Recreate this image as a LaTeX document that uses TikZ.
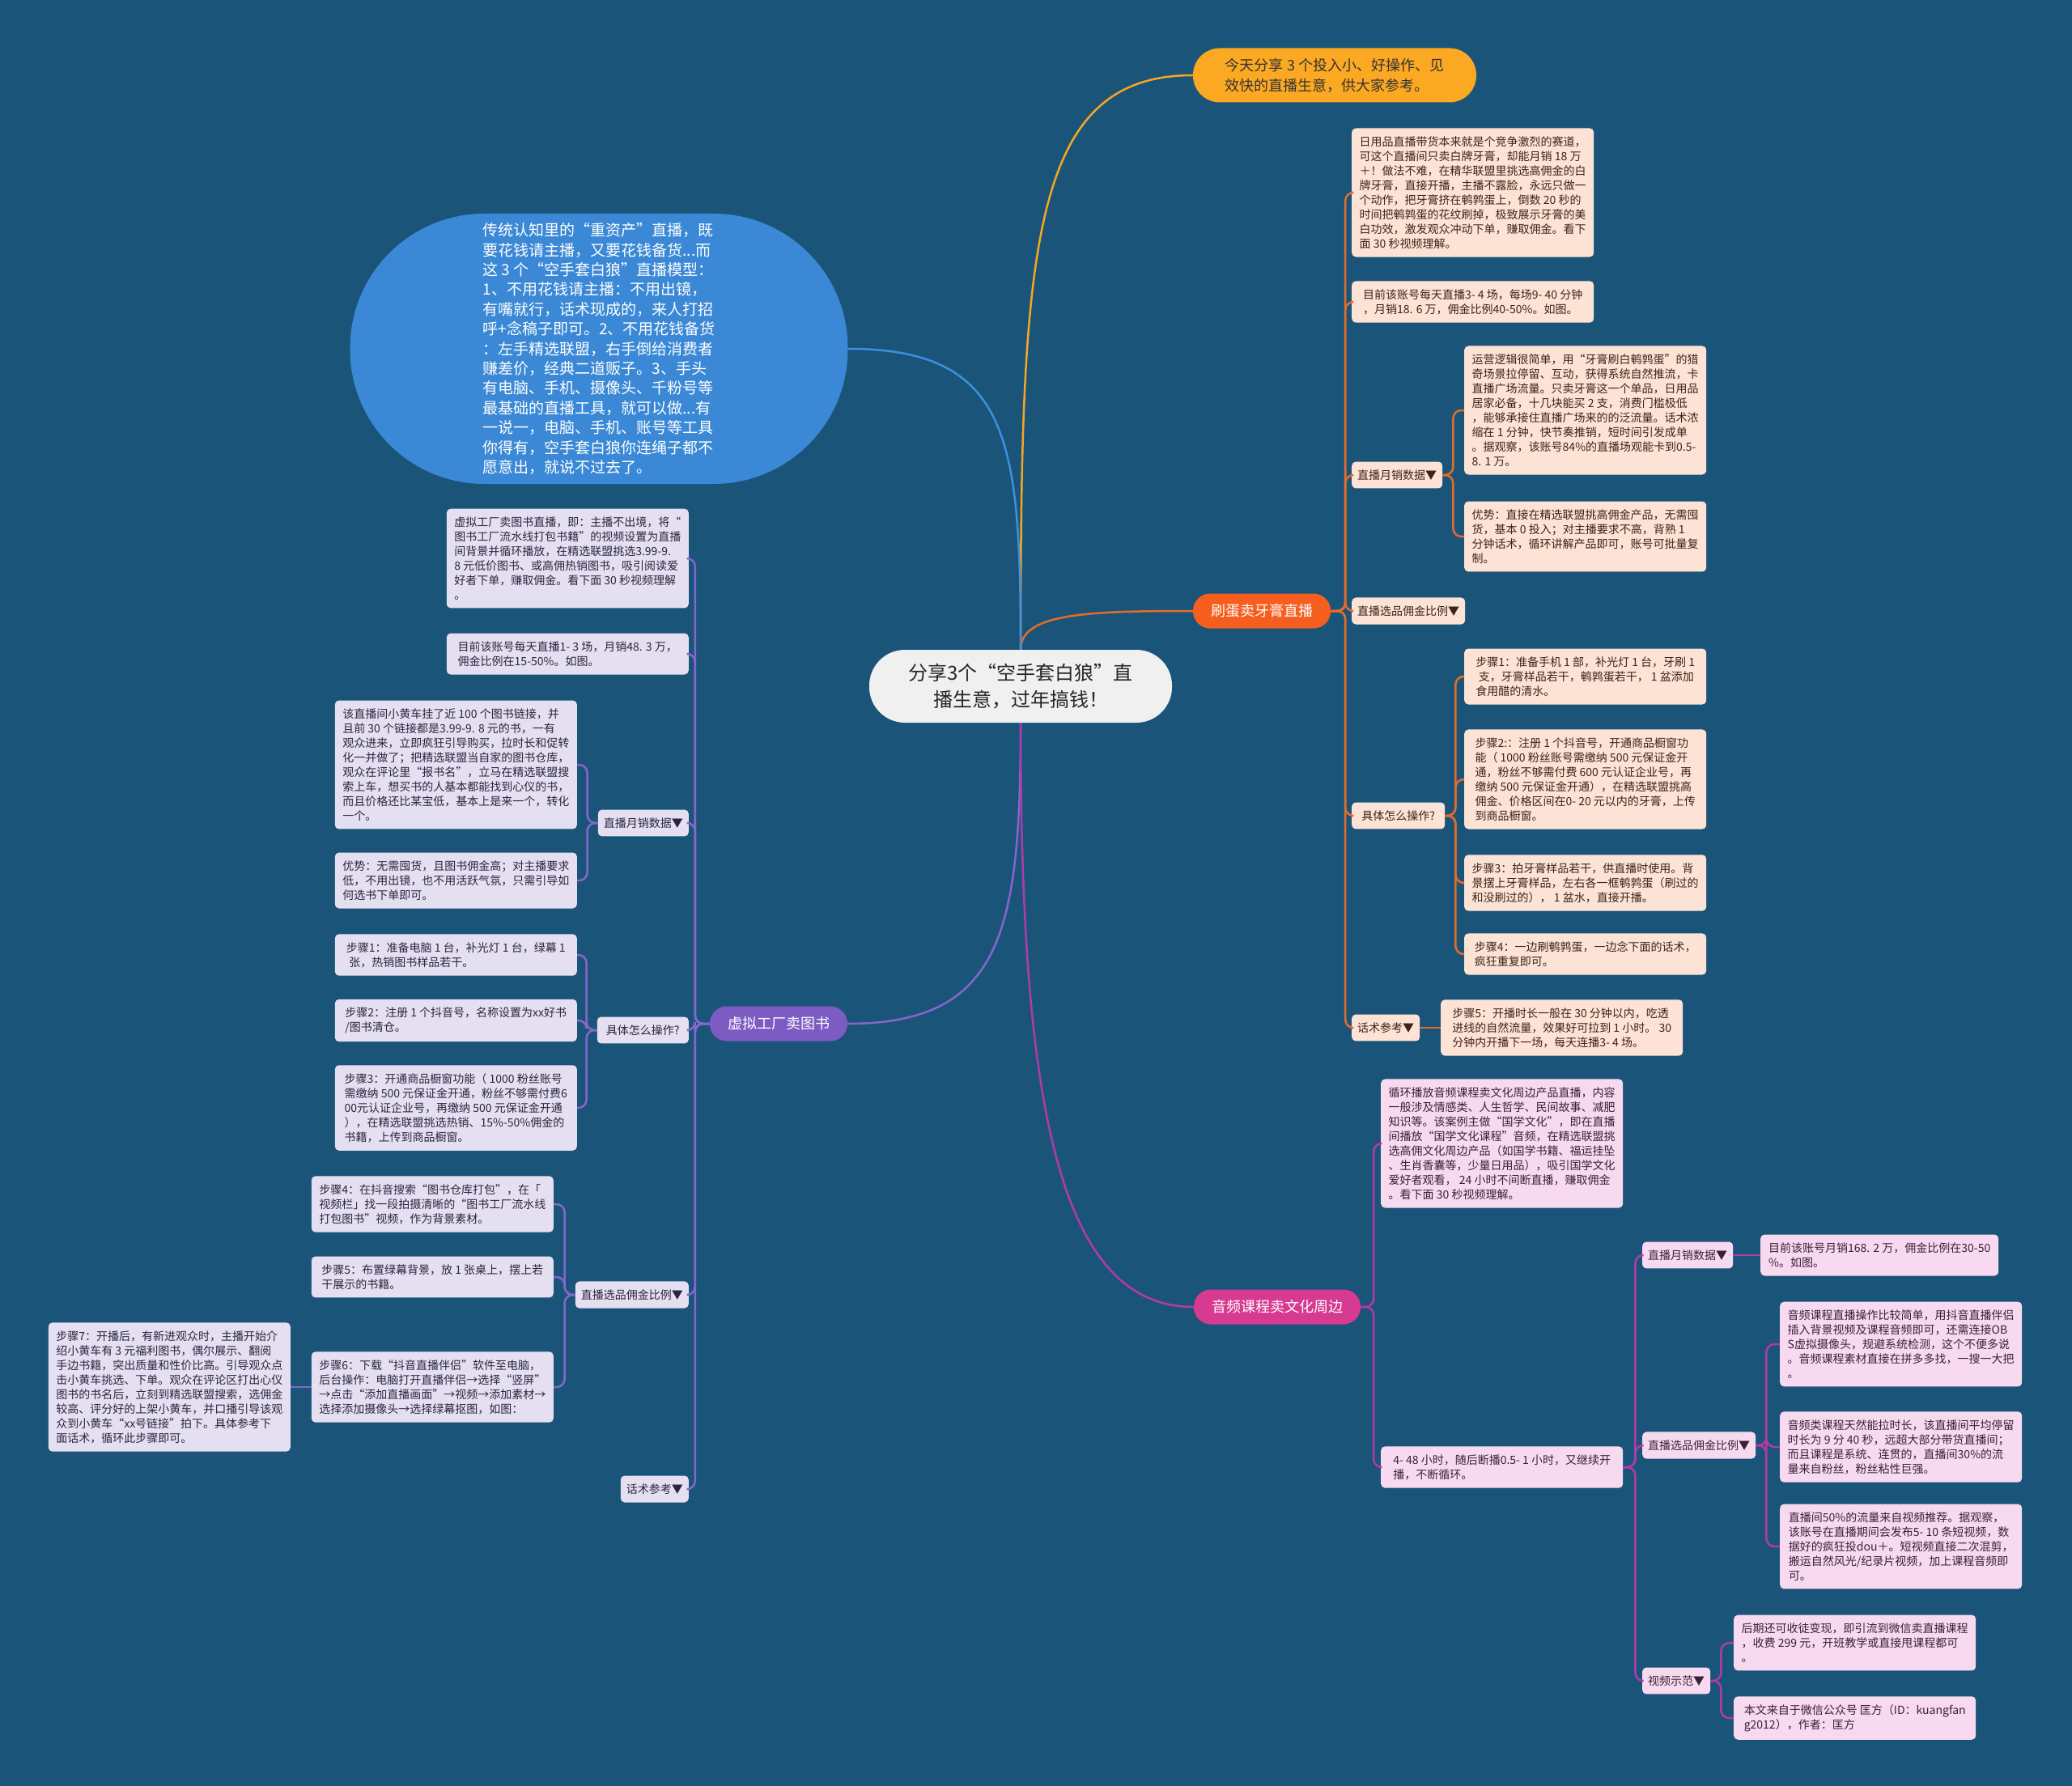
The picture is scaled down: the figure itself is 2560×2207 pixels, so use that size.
\documentclass[tikz,border=0pt]{standalone}
\usepackage{fontspec}
\setmainfont{Noto Sans CJK SC}

\definecolor{bg}{RGB}{27,84,121}
\definecolor{rootfill}{RGB}{240,240,240}
\definecolor{introfill}{RGB}{251,168,35}
\definecolor{introline}{RGB}{245,166,35}
\definecolor{leadfill}{RGB}{59,137,214}
\definecolor{leadline}{RGB}{61,143,224}
\definecolor{toothfill}{RGB}{245,94,30}
\definecolor{toothline}{RGB}{228,108,43}
\definecolor{toothleaf}{RGB}{253,227,213}
\definecolor{toothtext}{RGB}{61,36,24}
\definecolor{bookfill}{RGB}{124,91,194}
\definecolor{bookline}{RGB}{132,102,204}
\definecolor{bookleaf}{RGB}{229,224,241}
\definecolor{booktext}{RGB}{42,36,64}
\definecolor{audiofill}{RGB}{214,58,145}
\definecolor{audioline}{RGB}{178,58,168}
\definecolor{audioleaf}{RGB}{247,218,240}
\definecolor{audiotext}{RGB}{58,31,53}

\tikzset{
  box/.style={rounded corners=5pt, inner xsep=7pt, inner ysep=10pt, font=\fontsize{14}{18}\selectfont},
  leaf/.style={box, align=left, minimum width=299pt},
  tleaf/.style={leaf, fill=toothleaf, text=toothtext},
  bleaf/.style={leaf, fill=bookleaf, text=booktext},
  aleaf/.style={leaf, fill=audioleaf, text=audiotext},
  ttag/.style={box, fill=toothleaf, text=toothtext},
  btag/.style={box, fill=bookleaf, text=booktext},
  atag/.style={box, fill=audioleaf, text=audiotext},
  branch/.style={rounded corners=21pt, minimum height=43pt, inner xsep=22pt, inner ysep=0pt, text=white, font=\fontsize{18}{22}\selectfont},
  link/.style={line width=2.5pt, rounded corners=10pt},
  curve/.style={line width=2.5pt},
}

\begin{document}
\begin{tikzpicture}[x=1pt,y=-1pt]
  % 背景
  \fill[bg] (0,0) rectangle (2560,2207);
  \useasboundingbox (0,0) rectangle (2560,2207);

  % 中心主题
  \node[fill=rootfill, rounded corners=44pt, minimum width=374pt, minimum height=90pt, align=center, text=black!85, font=\fontsize{24}{32.5}\selectfont] (root) at (1261,848) {分享3个“空手套白狼”直\\播生意，过年搞钱！};

  % 导语
  \node[fill=introfill, rounded corners=33pt, minimum width=350pt, minimum height=67pt, align=left, text=black!80, font=\fontsize{18}{25}\selectfont] (intro) at (1649,93) {今天分享 3 个投入小、好操作、见\\效快的直播生意，供大家参考。};

  \node[fill=leadfill, rounded corners=166pt, minimum width=615pt, minimum height=334pt, align=left, text=white, font=\fontsize{19}{24.4}\selectfont] (lead) at (740,431) {传统认知里的“重资产”直播，既\\要花钱请主播，又要花钱备货...而\\这 3 个“空手套白狼”直播模型：\\1、不用花钱请主播：不用出镜，\\有嘴就行，话术现成的，来人打招\\呼+念稿子即可。2、不用花钱备货\\：左手精选联盟，右手倒给消费者\\赚差价，经典二道贩子。3、手头\\有电脑、手机、摄像头、千粉号等\\最基础的直播工具，就可以做...有\\一说一，电脑、手机、账号等工具\\你得有，空手套白狼你连绳子都不\\愿意出，就说不过去了。};

  % 三个分支
  \node[branch, fill=toothfill] (tooth) at (1559,755) {刷蛋卖牙膏直播};
  \node[branch, fill=bookfill] (book) at (962,1265) {虚拟工厂卖图书};
  \node[branch, fill=audiofill] (audio) at (1578,1615) {音频课程卖文化周边};

  % 刷蛋卖牙膏直播
  \node[tleaf, anchor=west] (t1) at (1670,238) {日用品直播带货本来就是个竞争激烈的赛道，\\可这个直播间只卖白牌牙膏，却能月销 18 万\\＋！做法不难，在精华联盟里挑选高佣金的白\\牌牙膏，直接开播，主播不露脸，永远只做一\\个动作，把牙膏挤在鹌鹑蛋上，倒数 20 秒的\\时间把鹌鹑蛋的花纹刷掉，极致展示牙膏的美\\白功效，激发观众冲动下单，赚取佣金。看下\\面 30 秒视频理解。};
  \node[tleaf, anchor=west] (t2) at (1670,373) {目前该账号每天直播3- 4 场，每场9- 40 分钟\\，月销18. 6 万，佣金比例40-50\%。如图。};
  \node[ttag, anchor=west] (tsales) at (1670,587) {直播月销数据▼};
  \node[ttag, anchor=west] (tpick) at (1670,755) {直播选品佣金比例▼};
  \node[ttag, anchor=west, minimum width=115pt] (thow) at (1670,1008) {具体怎么操作?};
  \node[ttag, anchor=west] (ttalk) at (1670,1270) {话术参考▼};

  \node[tleaf, anchor=west] (ta) at (1809,507) {运营逻辑很简单，用“牙膏刷白鹌鹑蛋”的猎\\奇场景拉停留、互动，获得系统自然推流，卡\\直播广场流量。只卖牙膏这一个单品，日用品\\居家必备，十几块能买 2 支，消费门槛极低\\，能够承接住直播广场来的的泛流量。话术浓\\缩在 1 分钟，快节奏推销，短时间引发成单\\。据观察，该账号84\%的直播场观能卡到0.5-\\8. 1 万。};
  \node[tleaf, anchor=west] (tb) at (1809,663) {优势：直接在精选联盟挑高佣金产品，无需囤\\货，基本 0 投入；对主播要求不高，背熟 1\\分钟话术，循环讲解产品即可，账号可批量复\\制。};

  \node[tleaf, anchor=west] (ts1) at (1809,836) {步骤1：准备手机 1 部，补光灯 1 台，牙刷 1\\\hspace*{.25em}支，牙膏样品若干，鹌鹑蛋若干， 1 盆添加\\食用醋的清水。};
  \node[tleaf, anchor=west] (ts2) at (1809,963) {步骤2:：注册 1 个抖音号，开通商品橱窗功\\能（ 1000 粉丝账号需缴纳 500 元保证金开\\通，粉丝不够需付费 600 元认证企业号，再\\缴纳 500 元保证金开通），在精选联盟挑高\\佣金、价格区间在0- 20 元以内的牙膏，上传\\到商品橱窗。};
  \node[tleaf, anchor=west] (ts3) at (1809,1091) {步骤3：拍牙膏样品若干，供直播时使用。背\\景摆上牙膏样品，左右各一框鹌鹑蛋（刷过的\\和没刷过的）， 1 盆水，直接开播。};
  \node[tleaf, anchor=west] (ts4) at (1809,1179) {步骤4：一边刷鹌鹑蛋，一边念下面的话术，\\疯狂重复即可。};
  \node[tleaf, anchor=west] (ts5) at (1780,1270) {步骤5：开播时长一般在 30 分钟以内，吃透\\进线的自然流量，效果好可拉到 1 小时。 30\\分钟内开播下一场，每天连播3- 4 场。};

  % 虚拟工厂卖图书
  \node[bleaf, anchor=east] (b1) at (851,690) {虚拟工厂卖图书直播，即：主播不出境，将“\\图书工厂流水线打包书籍”的视频设置为直播\\间背景并循环播放，在精选联盟挑选3.99-9.\\8 元低价图书、或高佣热销图书，吸引阅读爱\\好者下单，赚取佣金。看下面 30 秒视频理解\\。};
  \node[bleaf, anchor=east] (b2) at (851,808) {目前该账号每天直播1- 3 场，月销48. 3 万，\\佣金比例在15-50\%。如图。};
  \node[btag, anchor=east] (bsales) at (851,1017) {直播月销数据▼};
  \node[btag, anchor=east, minimum width=113pt] (bhow) at (851,1273) {具体怎么操作?};
  \node[btag, anchor=east] (bpick) at (851,1600) {直播选品佣金比例▼};
  \node[btag, anchor=east] (btalk) at (851,1840) {话术参考▼};

  \node[bleaf, anchor=east] (b3) at (713,945) {该直播间小黄车挂了近 100 个图书链接，并\\且前 30 个链接都是3.99-9. 8 元的书，一有\\观众进来，立即疯狂引导购买，拉时长和促转\\化一并做了；把精选联盟当自家的图书仓库，\\观众在评论里“报书名”，立马在精选联盟搜\\索上车，想买书的人基本都能找到心仪的书，\\而且价格还比某宝低，基本上是来一个，转化\\一个。};
  \node[bleaf, anchor=east] (b4) at (713,1088) {优势：无需囤货，且图书佣金高；对主播要求\\低，不用出镜，也不用活跃气氛，只需引导如\\何选书下单即可。};

  \node[bleaf, anchor=east] (bs1) at (713,1180) {步骤1：准备电脑 1 台，补光灯 1 台，绿幕 1\\\hspace*{.25em}张，热销图书样品若干。};
  \node[bleaf, anchor=east] (bs2) at (713,1261) {步骤2：注册 1 个抖音号，名称设置为xx好书\\/图书清仓。};
  \node[bleaf, anchor=east] (bs3) at (713,1369) {步骤3：开通商品橱窗功能（ 1000 粉丝账号\\需缴纳 500 元保证金开通，粉丝不够需付费6\\00元认证企业号，再缴纳 500 元保证金开通\\），在精选联盟挑选热销、15\%-50\%佣金的\\书籍，上传到商品橱窗。};

  \node[bleaf, anchor=east] (bs4) at (684,1488) {步骤4：在抖音搜索“图书仓库打包”，在「\\视频栏」找一段拍摄清晰的“图书工厂流水线\\打包图书”视频，作为背景素材。};
  \node[bleaf, anchor=east] (bs5) at (684,1578) {步骤5：布置绿幕背景，放 1 张桌上，摆上若\\干展示的书籍。};
  \node[bleaf, anchor=east] (bs6) at (684,1714) {步骤6：下载“抖音直播伴侣”软件至电脑，\\后台操作：电脑打开直播伴侣→选择“竖屏”\\→点击“添加直播画面”→视频→添加素材→\\选择添加摄像头→选择绿幕抠图，如图：};
  \node[bleaf, anchor=east] (bs7) at (359,1714) {步骤7：开播后，有新进观众时，主播开始介\\绍小黄车有 3 元福利图书，偶尔展示、翻阅\\手边书籍，突出质量和性价比高。引导观众点\\击小黄车挑选、下单。观众在评论区打出心仪\\图书的书名后，立刻到精选联盟搜索，选佣金\\较高、评分好的上架小黄车，并口播引导该观\\众到小黄车“xx号链接”拍下。具体参考下\\面话术，循环此步骤即可。};

  % 音频课程卖文化周边
  \node[aleaf, anchor=west] (a1) at (1706,1413) {循环播放音频课程卖文化周边产品直播，内容\\一般涉及情感类、人生哲学、民间故事、减肥\\知识等。该案例主做“国学文化”，即在直播\\间播放“国学文化课程”音频，在精选联盟挑\\选高佣文化周边产品（如国学书籍、福运挂坠\\、生肖香囊等，少量日用品），吸引国学文化\\爱好者观看， 24 小时不间断直播，赚取佣金\\。看下面 30 秒视频理解。};
  \node[aleaf, anchor=west] (a2) at (1706,1813) {4- 48 小时，随后断播0.5- 1 小时，又继续开\\播，不断循环。};
  \node[atag, anchor=west] (asales) at (2029,1551) {直播月销数据▼};
  \node[atag, anchor=west] (apick) at (2029,1786) {直播选品佣金比例▼};
  \node[atag, anchor=west] (avideo) at (2029,2077) {视频示范▼};

  \node[aleaf, anchor=west, minimum width=294pt] (as1) at (2175,1551) {目前该账号月销168. 2 万，佣金比例在30-50\\\%。如图。};
  \node[aleaf, anchor=west] (a3) at (2199,1661) {音频课程直播操作比较简单，用抖音直播伴侣\\插入背景视频及课程音频即可，还需连接OB\\S虚拟摄像头，规避系统检测，这个不便多说\\。音频课程素材直接在拼多多找，一搜一大把\\。};
  \node[aleaf, anchor=west] (a4) at (2199,1788) {音频类课程天然能拉时长，该直播间平均停留\\时长为 9 分 40 秒，远超大部分带货直播间；\\而且课程是系统、连贯的，直播间30\%的流\\量来自粉丝，粉丝粘性巨强。};
  \node[aleaf, anchor=west] (a5) at (2199,1911) {直播间50\%的流量来自视频推荐。据观察，\\该账号在直播期间会发布5- 10 条短视频，数\\据好的疯狂投dou＋。短视频直接二次混剪，\\搬运自然风光/纪录片视频，加上课程音频即\\可。};
  \node[aleaf, anchor=west] (a6) at (2142,2030) {后期还可收徒变现，即引流到微信卖直播课程\\，收费 299 元，开班教学或直接甩课程都可\\。};
  \node[aleaf, anchor=west] (a7) at (2142,2123) {本文来自于微信公众号 匡方（ID：kuangfan\\g2012），作者：匡方};

  % 主干曲线
  \draw[curve, introline] (root.north) .. controls +(0,-500) and +(-200,0) .. (intro.west);
  \draw[curve, toothline] (root.north) .. controls +(0,-45) and +(-130,0) .. (tooth.west);
  \draw[curve, leadline] (root.north) .. controls +(0,-260) and +(200,0) .. (lead.east);
  \draw[curve, bookline] (root.south) .. controls +(0,260) and +(190,0) .. (book.east);
  \draw[curve, audioline] (root.south) .. controls +(0,460) and +(-170,0) .. (audio.west);

  % 分支连线
  \foreach \c in {t1,t2,tsales,tpick,thow,ttalk}
    \draw[link, toothline] (tooth.east) -- ++(18,0) |- (\c.west);
  \foreach \c in {ta,tb}
    \draw[link, toothline] (tsales.east) -- ++(13,0) |- (\c.west);
  \foreach \c in {ts1,ts2,ts3,ts4}
    \draw[link, toothline] (thow.east) -- ++(13,0) |- (\c.west);
  \draw[link, toothline] (ttalk.east) -- (ts5.west);

  \foreach \c in {b1,b2,bsales,bhow,bpick,btalk}
    \draw[link, bookline] (book.west) -- ++(-18,0) |- (\c.east);
  \foreach \c in {b3,b4}
    \draw[link, bookline] (bsales.west) -- ++(-13,0) |- (\c.east);
  \foreach \c in {bs1,bs2,bs3}
    \draw[link, bookline] (bhow.west) -- ++(-13,0) |- (\c.east);
  \foreach \c in {bs4,bs5,bs6}
    \draw[link, bookline] (bpick.west) -- ++(-13,0) |- (\c.east);
  \draw[link, bookline] (bs6.west) -- (bs7.east);

  \foreach \c in {a1,a2}
    \draw[link, audioline] (audio.east) -- ++(16,0) |- (\c.west);
  \foreach \c in {asales,apick,avideo}
    \draw[link, audioline] (a2.east) -- ++(15,0) |- (\c.west);
  \draw[link, audioline] (asales.east) -- (as1.west);
  \foreach \c in {a3,a4,a5}
    \draw[link, audioline] (apick.east) -- ++(13,0) |- (\c.west);
  \foreach \c in {a6,a7}
    \draw[link, audioline] (avideo.east) -- ++(13,0) |- (\c.west);
\end{tikzpicture}
\end{document}
